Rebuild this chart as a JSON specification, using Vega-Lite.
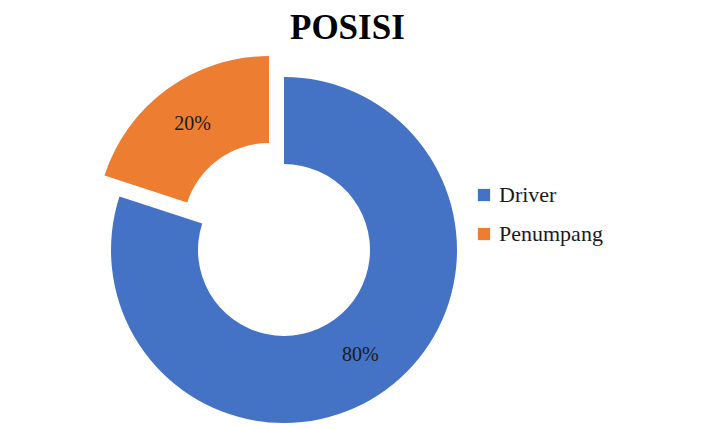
{
  "$schema": "https://vega.github.io/schema/vega-lite/v6.json",
  "width": 568,
  "height": 380,
  "padding": {"left": 0, "top": 11, "right": 0, "bottom": 0},
  "background": "white",
  "config": {"view": {"stroke": null}, "font": "Times New Roman, Liberation Serif, serif"},
  "title": {"text": "POSISI", "font": "Times New Roman, Liberation Serif, serif", "fontSize": 35, "fontWeight": "bold", "color": "#000000", "anchor": "start", "dx": 290, "offset": 10},
  "data": {"values": [
    {"posisi": "Driver", "persen": 80, "label": "80%"},
    {"posisi": "Penumpang", "persen": 20, "label": "20%"}
  ]},
  "encoding": {
    "theta": {"field": "persen", "type": "quantitative", "stack": true},
    "order": {"field": "posisi", "type": "ordinal", "sort": "ascending"}
  },
  "layer": [
    {"mark": {"type": "arc", "radius": 173, "radius2": 86},
     "encoding": {
       "color": {"field": "posisi", "type": "nominal", "scale": {"domain": ["Driver", "Penumpang"], "range": ["#4472C4", "#ED7D31"]},
         "legend": {"title": null, "orient": "none", "legendX": 473, "legendY": 124, "symbolType": "square", "symbolSize": 150, "labelFont": "Times New Roman, Liberation Serif, serif", "labelFontSize": 22, "labelColor": "#1a1a1a", "rowPadding": 17, "symbolStrokeWidth": 0, "labelOffset": 4}},
       "opacity": {"condition": {"test": "datum.posisi === 'Driver'", "value": 1}, "value": 0}}},
    {"mark": {"type": "arc", "radius": 173, "radius2": 86, "xOffset": -15, "yOffset": -21},
     "encoding": {
       "color": {"field": "posisi", "type": "nominal"},
       "opacity": {"condition": {"test": "datum.posisi === 'Penumpang'", "value": 1}, "value": 0}}},
    {"mark": {"type": "text", "radius": 130, "font": "Times New Roman, Liberation Serif, serif", "fontSize": 20, "fill": "#1a1a1a"},
     "encoding": {"text": {"field": "label"}, "opacity": {"condition": {"test": "datum.posisi === 'Driver'", "value": 1}, "value": 0}}},
    {"mark": {"type": "text", "radius": 130, "font": "Times New Roman, Liberation Serif, serif", "fontSize": 20, "fill": "#1a1a1a", "xOffset": -15, "yOffset": -21},
     "encoding": {"text": {"field": "label"}, "opacity": {"condition": {"test": "datum.posisi === 'Penumpang'", "value": 1}, "value": 0}}}
  ]
}
